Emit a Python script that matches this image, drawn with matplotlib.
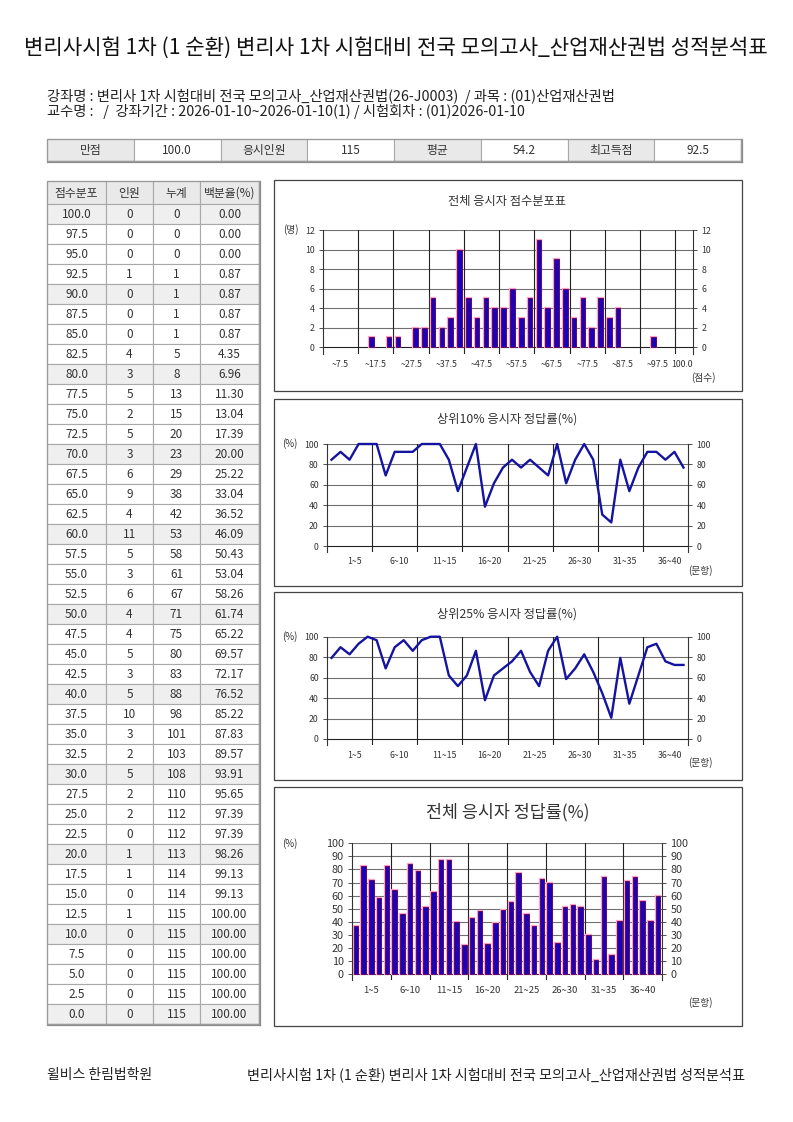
import matplotlib
matplotlib.use("Agg")
import matplotlib.pyplot as plt
from matplotlib.patches import Rectangle
import numpy as np

plt.rcParams['font.family'] = ['Noto Sans CJK KR', 'DejaVu Sans']
plt.rcParams['axes.unicode_minus'] = False

W, H = 793, 1122

title = "변리사시험 1차 (1 순환) 변리사 1차 시험대비 전국 모의고사_산업재산권법 성적분석표"
info1 = "강좌명 : 변리사 1차 시험대비 전국 모의고사_산업재산권법(26-J0003)  / 과목 : (01)산업재산권법"
info2 = "교수명 :   /  강좌기간 : 2026-01-10~2026-01-10(1) / 시험회차 : (01)2026-01-10"
footer_left = "윌비스 한림법학원"

summary_labels = ["만점", "응시인원", "평균", "최고득점"]
summary_values = ["100.0", "115", "54.2", "92.5"]

# 점수분포 표 (100.0 -> 0.0)
scores = ["100.0", "97.5", "95.0", "92.5", "90.0", "87.5", "85.0", "82.5", "80.0",
          "77.5", "75.0", "72.5", "70.0", "67.5", "65.0", "62.5", "60.0", "57.5",
          "55.0", "52.5", "50.0", "47.5", "45.0", "42.5", "40.0", "37.5", "35.0",
          "32.5", "30.0", "27.5", "25.0", "22.5", "20.0", "17.5", "15.0", "12.5",
          "10.0", "7.5", "5.0", "2.5", "0.0"]
counts = [0, 0, 0, 1, 0, 0, 0, 4, 3, 5, 2, 5, 3, 6, 9, 4, 11, 5, 3, 6, 4, 4, 5, 3,
          5, 10, 3, 2, 5, 2, 2, 0, 1, 1, 0, 1, 0, 0, 0, 0, 0]
cumulative = [0, 0, 0, 1, 1, 1, 1, 5, 8, 13, 15, 20, 23, 29, 38, 42, 53, 58, 61, 67,
              71, 75, 80, 83, 88, 98, 101, 103, 108, 110, 112, 112, 113, 114, 114,
              115, 115, 115, 115, 115, 115]
percents = ["0.00", "0.00", "0.00", "0.87", "0.87", "0.87", "0.87", "4.35", "6.96",
            "11.30", "13.04", "17.39", "20.00", "25.22", "33.04", "36.52", "46.09",
            "50.43", "53.04", "58.26", "61.74", "65.22", "69.57", "72.17", "76.52",
            "85.22", "87.83", "89.57", "93.91", "95.65", "97.39", "97.39", "98.26",
            "99.13", "99.13", "100.00", "100.00", "100.00", "100.00", "100.00", "100.00"]
shaded_scores = ["100.0", "90.0", "80.0", "70.0", "60.0", "50.0", "40.0", "30.0",
                 "20.0", "10.0", "0.0"]

hist_labels = ["~7.5", "~17.5", "~27.5", "~37.5", "~47.5", "~57.5", "~67.5",
               "~77.5", "~87.5", "~97.5", "100.0"]
q_labels = ["1~5", "6~10", "11~15", "16~20", "21~25", "26~30", "31~35", "36~40"]

top10 = [84.6, 92.3, 84.6, 100, 100, 100, 69.2, 92.3, 92.3, 92.3,
         100, 100, 100, 84.6, 53.8, 76.9, 100, 38.5, 61.5, 76.9,
         84.6, 76.9, 84.6, 76.9, 69.2, 100, 61.5, 84.6, 100, 84.6,
         30.8, 23.1, 84.6, 53.8, 76.9, 92.3, 92.3, 84.6, 92.3, 76.9]
top25 = [79.3, 89.7, 82.8, 93.1, 100, 96.6, 69.0, 89.7, 96.6, 86.2,
         96.6, 100, 100, 62.1, 51.7, 62.1, 86.2, 37.9, 62.1, 69.0,
         75.9, 86.2, 65.5, 51.7, 86.2, 100, 58.6, 69.0, 82.8, 65.5,
         44.8, 20.7, 79.3, 34.5, 62.1, 89.7, 93.1, 75.9, 72.4, 72.4]
overall = [37, 83, 72, 58, 83, 64, 46, 84, 79, 51,
           63, 87, 87, 40, 22, 43, 48, 23, 39, 49,
           55, 77, 46, 37, 73, 70, 24, 51, 53, 51,
           30, 11, 74, 15, 41, 71, 74, 56, 41, 60]

BAR_FACE = '#1c00b8'
BAR_EDGE = '#5a005a'
BAR_HALO = '#ffa0c8'
LINE_COL = '#1414a0'


def fx(x):
    return x / W


def fy(y):
    return 1 - y / H


def px_axes(fig, x0, y0, x1, y1):
    return fig.add_axes([fx(x0), fy(y1), (x1 - x0) / W, (y1 - y0) / H])


def cell(bg, x0, y0, x1, y1, text, fc='white', fs=8.5, ec='#a8a8a8'):
    bg.add_patch(Rectangle((x0, y0), x1 - x0, y1 - y0, fc=fc, ec=ec, lw=0.8, zorder=2))
    bg.text((x0 + x1) / 2, (y0 + y1) / 2 + 0.5, text, ha='center', va='center',
            fontsize=fs, color='#333333', zorder=3)


def framed(bg, x0, y0, x1, y1):
    # 바깥 테두리 + 오른쪽/아래 그림자
    bg.plot([x1 + 1, x1 + 1], [y0 + 1, y1 + 1], color='#8a8a8a', lw=1.6, zorder=4)
    bg.plot([x0 + 1, x1 + 1], [y1 + 1, y1 + 1], color='#8a8a8a', lw=1.6, zorder=4)
    bg.add_patch(Rectangle((x0, y0), x1 - x0, y1 - y0, fc='none', ec='#9a9a9a',
                           lw=0.9, zorder=4))


def style_chart(ax, yticks, fs):
    for side in ['top', 'bottom']:
        ax.spines[side].set_visible(False)
    for side in ['left', 'right']:
        ax.spines[side].set_color('#333333')
        ax.spines[side].set_linewidth(0.8)
    ax.set_yticks(yticks)
    ax.tick_params(axis='y', which='both', left=True, right=True, labelleft=True,
                   labelright=True, length=3, width=0.6, labelsize=fs, pad=3,
                   colors='#333333')
    ax.tick_params(axis='x', length=0, labelsize=fs, pad=4, colors='#333333')
    for t in yticks:
        ax.axhline(t, color='#707070' if t else '#222222', lw=0.8, zorder=0.5)


def draw_bars(ax, values, width):
    pos = np.arange(len(values))
    vals = np.array(values, dtype=float)
    keep = vals > 0
    ax.bar(pos[keep], vals[keep], width=width, color=BAR_FACE, edgecolor=BAR_HALO,
           lw=1.6, zorder=2)
    ax.bar(pos[keep], vals[keep], width=width, color=BAR_FACE, edgecolor=BAR_EDGE,
           lw=0.6, zorder=3)


def main():
    fig = plt.figure(figsize=(W / 100, H / 100), dpi=100)
    bg = fig.add_axes([0, 0, 1, 1])
    bg.set_xlim(0, W)
    bg.set_ylim(H, 0)
    bg.axis('off')

    # 제목, 강좌 정보
    bg.text(396, 48, title, ha='center', va='center', fontsize=15.2, color='#111111')
    bg.text(47, 96, info1, ha='left', va='center', fontsize=10.3, color='#222222')
    bg.text(47, 111, info2, ha='left', va='center', fontsize=10.3, color='#222222')

    # 요약 표
    xs = np.linspace(47, 741, 9)
    for i in range(4):
        cell(bg, xs[2 * i], 139, xs[2 * i + 1], 161, summary_labels[i], fc='#e9e9e9')
        cell(bg, xs[2 * i + 1], 139, xs[2 * i + 2], 161, summary_values[i])
    framed(bg, 47, 139, 741, 161)

    # 점수분포 표
    cols = [47, 106, 153, 200, 259]
    heads = ["점수분포", "인원", "누계", "백분율(%)"]
    for j in range(4):
        cell(bg, cols[j], 181, cols[j + 1], 204, heads[j], fc='#e9e9e9')
    for i in range(len(scores)):
        y0 = 204 + i * 20
        fc = '#efefef' if scores[i] in shaded_scores else 'white'
        row = [scores[i], str(counts[i]), str(cumulative[i]), percents[i]]
        for j in range(4):
            cell(bg, cols[j], y0, cols[j + 1], y0 + 20, row[j], fc=fc)
    framed(bg, 47, 181, 259, 1024)

    # 차트 패널 테두리
    for (y0, y1) in [(180, 391), (399, 586), (592, 780), (787, 1026)]:
        bg.add_patch(Rectangle((274, y0), 742 - 274, y1 - y0, fc='none', ec='#444444',
                               lw=0.9, zorder=2))

    # 1. 전체 응시자 점수분포표
    hist_counts = counts[::-1]
    ax1 = px_axes(fig, 323, 230, 693, 354)
    draw_bars(ax1, hist_counts, 0.52)
    ax1.set_xlim(-0.5, 41.5)
    ax1.set_ylim(-0.69, 12)
    style_chart(ax1, [0, 2, 4, 6, 8, 10, 12], 6.3)
    for g in range(1, 11):
        ax1.axvline(4 * g - 0.5, color='#222222', lw=0.8, zorder=0.6)
    ax1.set_xticks([4 * g + 1.5 for g in range(10)] + [40.3])
    ax1.set_xticklabels(hist_labels)
    bg.text(507, 201, "전체 응시자 점수분포표", ha='center', va='center', fontsize=8.8, color='#333333')
    bg.text(291, 230, "(명)", ha='center', va='center', fontsize=7, color='#333333')
    bg.text(703, 378, "(점수)", ha='center', va='center', fontsize=7, color='#333333')

    # 2, 3. 상위 응시자 정답률 (선그래프)
    qpos = np.arange(40)
    line_panels = [(top10, "상위10% 응시자 정답률(%)", 419, 444, 546, 470 / 3 + 395, 571),
                   (top25, "상위25% 응시자 정답률(%)", 614, 636.7, 739, 465 / 3 + 590, 763)]
    for data, name, ty, ytop, yzero, ybot, unit_y in line_panels:
        ax = px_axes(fig, 327, ytop, 688, ybot)
        ax.plot(qpos, data, color=LINE_COL, lw=1.7, zorder=3, clip_on=False)
        ax.set_xlim(-0.5, 39.5)
        ext = (ybot - yzero) / (yzero - ytop) * 100
        ax.set_ylim(-ext, 100)
        style_chart(ax, [0, 20, 40, 60, 80, 100], 6.3)
        for g in range(1, 8):
            ax.axvline(5 * g - 0.5, color='#222222', lw=0.8, zorder=0.6)
        ax.set_xticks([5 * g + 2.5 for g in range(8)])
        ax.set_xticklabels(q_labels)
        bg.text(507, ty, name, ha='center', va='center', fontsize=8.8, color='#333333')
        bg.text(290, ytop, "(%)", ha='center', va='center', fontsize=7, color='#333333')
        bg.text(700, unit_y, "(문항)", ha='center', va='center', fontsize=7, color='#333333')

    # 4. 전체 응시자 정답률 (막대)
    ax4 = px_axes(fig, 352, 843.3, 662, 980)
    draw_bars(ax4, overall, 0.55)
    ax4.set_xlim(-0.5, 39.5)
    ax4.set_ylim(-(980 - 974.3) / (974.3 - 843.3) * 100, 100)
    style_chart(ax4, list(range(0, 101, 10)), 7.8)
    for g in range(1, 8):
        ax4.axvline(5 * g - 0.5, color='#222222', lw=0.8, zorder=0.6)
    ax4.set_xticks([5 * g + 2 for g in range(8)])
    ax4.set_xticklabels(q_labels, fontsize=6.8)
    bg.text(508, 812, "전체 응시자 정답률(%)", ha='center', va='center', fontsize=12.5, color='#333333')
    bg.text(290, 844, "(%)", ha='center', va='center', fontsize=7, color='#333333')
    bg.text(700, 1003, "(문항)", ha='center', va='center', fontsize=7, color='#333333')

    # 하단
    bg.text(47, 1075, footer_left, ha='left', va='center', fontsize=10, color='#222222')
    bg.text(745, 1075, title, ha='right', va='center', fontsize=10.2, color='#222222')

    fig.savefig("out.png", dpi=100)


if __name__ == "__main__":
    main()
